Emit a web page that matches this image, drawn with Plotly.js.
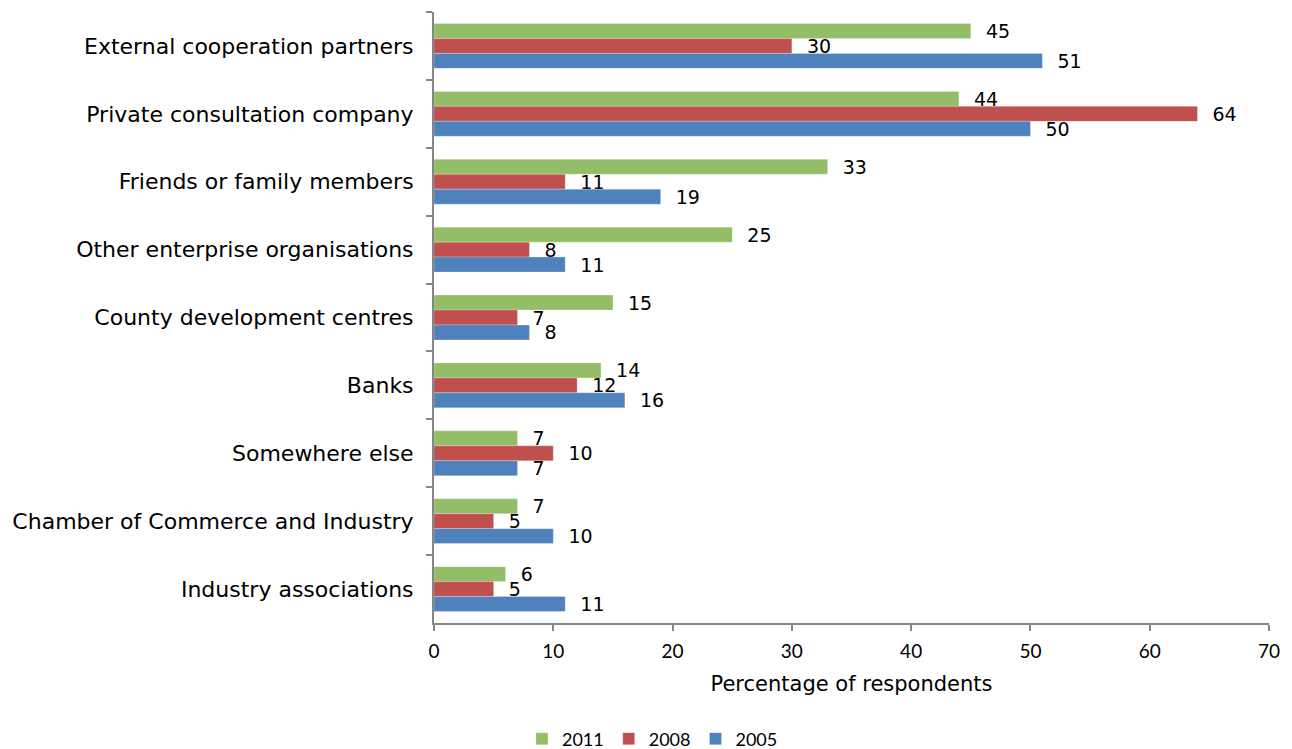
<!DOCTYPE html>
<html><head><meta charset="utf-8">
<script src="https://cdn.plot.ly/plotly-3.0.1.min.js"></script>
<style>html,body{margin:0;padding:0;background:#fff}#chart{width:1292px;height:749px}</style>
</head><body><div id="chart"></div>
<script>
const categories = ["External cooperation partners","Private consultation company","Friends or family members","Other enterprise organisations","County development centres","Banks","Somewhere else","Chamber of Commerce and Industry","Industry associations"];
const values2011 = [45,44,33,25,15,14,7,7,6];
const values2008 = [30,64,11,8,7,12,10,5,5];
const values2005 = [51,50,19,11,8,16,7,10,11];
const seriesNames = ["2011","2008","2005"];
const seriesColors = ["#93BD66","#C0504D","#4F81BD"];
const xTicks = [0,10,20,30,40,50,60,70];

const allVals = [values2011, values2008, values2005];
const traces = allVals.map((v,i)=>({
  type:"bar", orientation:"h", name:seriesNames[i], y:categories, x:v,
  marker:{color:seriesColors[i], line:{color:"rgba(255,255,255,0.5)", width:0.5}},
  text:v.map(n=>"  "+n), textposition:"outside", cliponaxis:false, constraintext:"none",
  textfont:{family:"DejaVu Sans, Verdana, sans-serif", size:19, color:"#000"},
  hoverinfo:"none"
}));

const layout = {
  width:1292, height:749,
  margin:{l:434, r:23, t:12, b:126},
  paper_bgcolor:"#fff", plot_bgcolor:"#fff",
  barmode:"group", bargap:0.34, bargroupgap:0,
  showlegend:true,
  legend:{orientation:"h", x:0.505, xref:"container", xanchor:"center", y:0.0134, yref:"container", yanchor:"middle",
    font:{family:"Lato, Carlito, sans-serif", size:18, color:"#000"}, itemwidth:30, traceorder:"normal"},
  xaxis:{range:[0,70], tickvals:xTicks, ticktext:xTicks.map(String), showgrid:false, zeroline:false, automargin:false,
    showline:true, linecolor:"#868686", linewidth:2, ticks:"outside", ticklen:6, tickcolor:"#868686", tickwidth:2,
    ticklabelstandoff:4,
    tickfont:{family:"Lato, Carlito, sans-serif", size:19, color:"#000"},
    title:{text:"Percentage of respondents", font:{family:"DejaVu Sans, Verdana, sans-serif", size:21, color:"#000"}, standoff:16}},
  yaxis:{autorange:"reversed", type:"category", showgrid:false, zeroline:false, automargin:false,
    showline:true, linecolor:"#868686", linewidth:2, ticks:"outside", ticklen:6, tickcolor:"#868686", tickwidth:2,
    tickson:"boundaries", ticklabelstandoff:14,
    tickfont:{family:"DejaVu Sans, Verdana, sans-serif", size:22, color:"#000"}}
};
Plotly.newPlot("chart", traces, layout, {displayModeBar:false, staticPlot:true});
</script></body></html>
